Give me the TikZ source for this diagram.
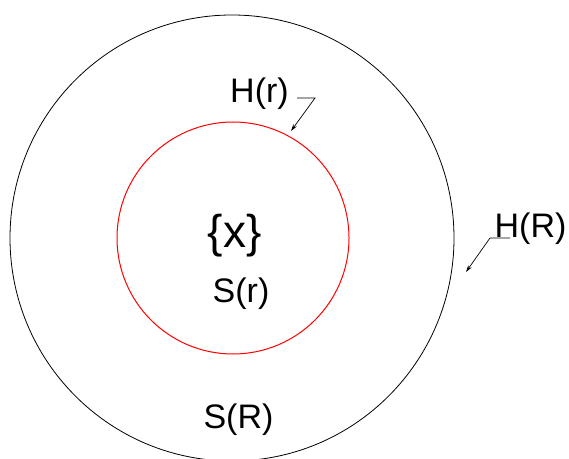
\documentclass[tikz,border=0pt]{standalone}
\usepackage{fontspec}
\setmainfont{Liberation Sans}
\usetikzlibrary{arrows.meta}
\begin{document}
\begin{tikzpicture}[x=1pt,y=1pt,
  lbl/.style={inner sep=0pt,anchor=base,font=\fontsize{34}{40}\selectfont},
  biglbl/.style={inner sep=0pt,anchor=base,font=\fontsize{46}{52}\selectfont},
  leader/.style={draw=black,line width=0.7pt,-{Stealth[length=7pt,width=4pt]}}]
\useasboundingbox (0,0) rectangle (569,458);
\clip (0,0) rectangle (569,458);
% circles
\draw[black,line width=0.8pt] (232,220) circle [x radius=222,y radius=223];
\draw[red,line width=1pt] (233,220) circle [radius=116];
% labels
\node[lbl] (Hr) at (259.5,355) {H(r)};
\node[lbl] (HR) at (530.5,221) {H(R)};
\node[biglbl] (x) at (234.5,211) {\{x\}};
\node[lbl] (Sr) at (241,156) {S(r)};
\node[lbl] (SR) at (238.5,30) {S(R)};
% leaders
\coordinate (hra) at (297,360);
\coordinate (hrb) at (315,360);
\coordinate (hrt) at (291,327);
\coordinate (hRa) at (510,220);
\coordinate (hRb) at (490,220);
\coordinate (hRt) at (466,186);
\draw[leader] (hra) -- (hrb) -- (hrt);
\draw[leader] (hRa) -- (hRb) -- (hRt);
\end{tikzpicture}
\end{document}
